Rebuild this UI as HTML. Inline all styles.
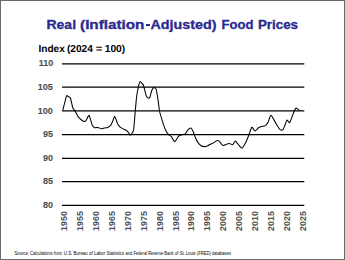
<!DOCTYPE html>
<html><head><meta charset="utf-8"><style>
html,body{margin:0;padding:0;}
body{width:345px;height:260px;position:relative;overflow:hidden;background:#fff;font-family:"Liberation Sans",sans-serif;}
.frame{position:absolute;left:0;top:0;width:345px;height:260px;box-sizing:border-box;border-left:1px solid #6a6a6a;border-top:1px solid #6a6a6a;border-right:1px solid #6a6a6a;border-bottom:1px solid #6a6a6a;}
.t{position:absolute;white-space:nowrap;line-height:1;transform-origin:0 0;}
.yl{font-weight:bold;transform-origin:100% 0;}
.xt{font-weight:bold;transform-origin:50% 50%;}
svg{position:absolute;left:0;top:0;}
</style></head><body>
<div class="frame"></div>
<svg width="345" height="260" viewBox="0 0 345 260">
<g stroke="#000" stroke-width="1.2"><line x1="62" x2="304.3" y1="63.78" y2="63.78"/><line x1="62" x2="304.3" y1="87.22" y2="87.22"/><line x1="62" x2="304.3" y1="110.85" y2="110.85"/><line x1="62" x2="304.3" y1="134.60" y2="134.60"/><line x1="62" x2="304.3" y1="158.30" y2="158.30"/><line x1="62" x2="304.3" y1="181.70" y2="181.70"/><line x1="62" x2="304.3" y1="205.45" y2="205.45"/></g>
<path d="M62.70,110.50 C63.07,109.08 65.92,97.75 66.40,96.30 C66.88,94.85 67.25,95.94 67.50,96.00 C67.75,96.06 68.60,96.68 68.90,96.90 C69.20,97.12 70.10,97.09 70.50,98.20 C70.90,99.31 72.47,106.77 72.90,108.00 C73.33,109.23 74.24,109.58 74.80,110.50 C75.36,111.42 77.64,116.12 78.50,117.20 C79.36,118.28 82.67,120.93 83.40,121.30 C84.13,121.67 85.34,121.37 85.80,120.90 C86.26,120.43 87.66,117.15 88.00,116.60 C88.34,116.05 88.95,115.09 89.20,115.40 C89.45,115.71 90.19,118.72 90.50,119.70 C90.81,120.68 91.87,124.40 92.30,125.20 C92.73,126.00 94.31,127.48 94.80,127.70 C95.29,127.92 96.77,127.38 97.20,127.40 C97.63,127.42 98.67,127.77 99.10,127.90 C99.53,128.03 100.95,128.70 101.50,128.70 C102.05,128.70 103.98,128.03 104.60,127.90 C105.22,127.77 107.08,127.67 107.70,127.40 C108.32,127.13 110.31,125.79 110.80,125.20 C111.29,124.61 112.23,122.38 112.60,121.50 C112.97,120.62 114.16,116.61 114.50,116.40 C114.84,116.19 115.68,118.64 116.00,119.40 C116.32,120.16 117.28,123.23 117.70,124.00 C118.12,124.77 119.65,126.61 120.20,127.10 C120.75,127.59 122.59,128.59 123.20,128.90 C123.81,129.21 125.77,129.83 126.30,130.20 C126.83,130.57 128.10,132.09 128.50,132.60 C128.90,133.11 129.90,135.30 130.30,135.30 C130.70,135.30 132.16,133.18 132.50,132.60 C132.84,132.02 133.46,131.22 133.70,129.50 C133.94,127.78 134.68,117.95 134.90,115.40 C135.12,112.85 135.70,106.09 135.90,104.00 C136.10,101.91 136.61,96.38 136.90,94.50 C137.19,92.62 138.49,86.50 138.80,85.20 C139.11,83.90 139.57,81.56 140.00,81.50 C140.43,81.44 142.67,83.92 143.10,84.60 C143.53,85.28 143.99,87.19 144.30,88.30 C144.61,89.41 145.83,94.74 146.20,95.70 C146.57,96.66 147.64,97.72 148.00,97.90 C148.36,98.08 149.43,98.21 149.80,97.50 C150.17,96.79 151.33,91.78 151.70,90.80 C152.07,89.82 153.07,87.89 153.50,87.70 C153.93,87.51 155.57,87.85 156.00,88.90 C156.43,89.95 157.49,96.29 157.80,98.20 C158.11,100.11 158.91,106.62 159.10,108.00 C159.29,109.38 159.46,110.98 159.70,112.00 C159.94,113.02 161.13,116.97 161.50,118.20 C161.87,119.43 162.97,123.07 163.40,124.30 C163.83,125.53 165.31,129.49 165.80,130.50 C166.29,131.51 167.74,133.79 168.30,134.40 C168.86,135.01 170.91,136.07 171.40,136.60 C171.89,137.13 172.87,139.18 173.20,139.70 C173.53,140.22 174.39,141.80 174.70,141.80 C175.01,141.80 175.95,140.22 176.30,139.70 C176.65,139.18 177.77,137.06 178.20,136.60 C178.63,136.14 180.05,135.33 180.60,135.10 C181.15,134.87 183.21,134.43 183.70,134.30 C184.19,134.17 185.12,134.20 185.50,133.80 C185.88,133.40 186.96,130.87 187.50,130.30 C188.04,129.73 190.34,127.98 190.90,128.10 C191.46,128.22 192.64,130.54 193.10,131.50 C193.56,132.46 195.01,136.59 195.50,137.70 C195.99,138.81 197.44,141.80 198.00,142.60 C198.56,143.40 200.48,145.30 201.10,145.70 C201.72,146.10 203.53,146.60 204.20,146.60 C204.87,146.60 207.17,145.94 207.80,145.70 C208.43,145.46 209.93,144.48 210.50,144.20 C211.07,143.92 212.95,143.21 213.50,142.90 C214.05,142.59 215.57,141.34 216.00,141.10 C216.43,140.86 217.43,140.44 217.80,140.50 C218.17,140.56 219.33,141.33 219.70,141.70 C220.07,142.07 221.13,143.81 221.50,144.20 C221.87,144.59 222.97,145.58 223.40,145.60 C223.83,145.62 225.19,144.61 225.80,144.40 C226.41,144.19 228.82,143.46 229.50,143.50 C230.18,143.54 232.02,145.04 232.60,144.80 C233.18,144.56 234.73,141.13 235.30,141.10 C235.87,141.07 237.63,143.79 238.30,144.50 C238.97,145.21 241.26,148.39 242.00,148.20 C242.74,148.01 245.02,143.90 245.70,142.60 C246.38,141.30 248.19,136.74 248.80,135.20 C249.41,133.66 251.19,127.63 251.80,127.20 C252.41,126.77 254.22,130.84 254.90,130.90 C255.58,130.96 257.96,128.25 258.60,127.80 C259.24,127.35 260.73,126.58 261.30,126.40 C261.87,126.22 263.81,126.16 264.30,126.00 C264.79,125.84 265.83,125.17 266.20,124.80 C266.57,124.43 267.54,123.25 268.00,122.30 C268.46,121.35 270.31,115.73 270.80,115.30 C271.29,114.87 272.38,117.18 272.90,118.00 C273.42,118.82 275.38,122.45 276.00,123.50 C276.62,124.55 278.61,127.84 279.10,128.50 C279.59,129.16 280.49,130.02 280.90,130.10 C281.31,130.18 282.80,129.79 283.20,129.30 C283.60,128.81 284.51,126.13 284.90,125.20 C285.29,124.27 286.63,120.24 287.10,120.00 C287.57,119.76 289.08,123.20 289.60,122.80 C290.12,122.40 291.78,117.30 292.30,116.00 C292.82,114.70 294.41,110.60 294.80,109.80 C295.19,109.00 295.90,108.06 296.20,108.00 C296.50,107.94 297.48,108.93 297.80,109.20 C298.12,109.47 299.24,110.55 299.40,110.70" fill="none" stroke="#000" stroke-width="1.05" stroke-linejoin="round"/>
</svg>
<div class="t" style="left:0px;top:19.0px;font-size:12.0px;color:#2a2a8f;font-weight:bold;transform:translateX(46.44px) scaleX(1.1672);-webkit-text-stroke:0.3px #2a2a8f;">Real</div>
<div class="t" style="left:0px;top:19.0px;font-size:12.0px;color:#2a2a8f;font-weight:bold;transform:translateX(80.05px) scaleX(1.2712);-webkit-text-stroke:0.3px #2a2a8f;">(Inflation</div>
<div class="t" style="left:0px;top:19.0px;font-size:12.0px;color:#2a2a8f;font-weight:bold;transform:translateX(150.43px) scaleX(1.1927);-webkit-text-stroke:0.3px #2a2a8f;">Adjusted)</div>
<div class="t" style="left:0px;top:19.0px;font-size:12.0px;color:#2a2a8f;font-weight:bold;transform:translateX(221.51px) scaleX(1.0873);-webkit-text-stroke:0.3px #2a2a8f;">Food</div>
<div class="t" style="left:0px;top:19.0px;font-size:12.0px;color:#2a2a8f;font-weight:bold;transform:translateX(257.95px) scaleX(1.1119);-webkit-text-stroke:0.3px #2a2a8f;">Prices</div>
<div class="t" style="left:0px;top:44.5px;font-size:10.2px;color:#000;font-weight:bold;transform:translateX(38.45px) scaleX(0.988);text-rendering:geometricPrecision;">Index</div>
<div class="t" style="left:0px;top:44.5px;font-size:10.2px;color:#000;font-weight:bold;transform:translateX(66.99px) scaleX(0.9924);text-rendering:geometricPrecision;">(2024</div>
<div class="t" style="left:0px;top:44.5px;font-size:10.2px;color:#000;font-weight:bold;transform:translateX(95.69px) scaleX(1.1197);text-rendering:geometricPrecision;">=</div>
<div class="t" style="left:0px;top:44.5px;font-size:10.2px;color:#000;font-weight:bold;transform:translateX(104.72px) scaleX(1.0059);text-rendering:geometricPrecision;">100)</div>
<div class="t" style="left:0px;top:250.5px;font-size:5px;color:#000;font-weight:normal;transform:translateX(14.57px) scaleX(0.8278);">Source: Calculations from</div>
<div class="t" style="left:0px;top:250.5px;font-size:5px;color:#000;font-weight:normal;transform:translateX(63.72px) scaleX(0.8834);">U.S. Bureau of Labor Statistics</div>
<div class="t" style="left:0px;top:250.5px;font-size:5px;color:#000;font-weight:normal;transform:translateX(125.56px) scaleX(0.8051);">and Federal Reserve Bank</div>
<div class="t" style="left:0px;top:250.5px;font-size:5px;color:#000;font-weight:normal;transform:translateX(175.04px) scaleX(0.8254);">of St. Louis (FRED) databases</div>
<div style="position:absolute;left:145.6px;top:23.6px;width:4.6px;height:2.0px;background:#2a2a8f"></div>
<div class="t yl" style="right:292.0px;top:60.20px;font-size:8.2px;transform:scaleX(1.1);-webkit-text-stroke:0.1px #505050;color:#505050">110</div>
<div class="t yl" style="right:292.0px;top:84.20px;font-size:8.2px;transform:scaleX(1.1);-webkit-text-stroke:0.1px #505050;color:#505050">105</div>
<div class="t yl" style="right:292.0px;top:108.20px;font-size:8.2px;transform:scaleX(1.1);-webkit-text-stroke:0.1px #505050;color:#505050">100</div>
<div class="t yl" style="right:292.0px;top:131.20px;font-size:8.2px;transform:scaleX(1.1);-webkit-text-stroke:0.1px #505050;color:#505050">95</div>
<div class="t yl" style="right:292.0px;top:155.20px;font-size:8.2px;transform:scaleX(1.1);-webkit-text-stroke:0.1px #505050;color:#505050">90</div>
<div class="t yl" style="right:292.0px;top:178.20px;font-size:8.2px;transform:scaleX(1.1);-webkit-text-stroke:0.1px #505050;color:#505050">85</div>
<div class="t yl" style="right:292.0px;top:202.20px;font-size:8.2px;transform:scaleX(1.1);-webkit-text-stroke:0.1px #505050;color:#505050">80</div>
<div class="t xt" style="left:64.30px;top:220.7px;font-size:8.9px;transform:translate(-50%,-50%) rotate(-90deg) scaleX(1.0);-webkit-text-stroke:0.0px #505050;color:#505050">1950</div>
<div class="t xt" style="left:80.19px;top:220.7px;font-size:8.9px;transform:translate(-50%,-50%) rotate(-90deg) scaleX(1.0);-webkit-text-stroke:0.0px #505050;color:#505050">1955</div>
<div class="t xt" style="left:96.07px;top:220.7px;font-size:8.9px;transform:translate(-50%,-50%) rotate(-90deg) scaleX(1.0);-webkit-text-stroke:0.0px #505050;color:#505050">1960</div>
<div class="t xt" style="left:111.96px;top:220.7px;font-size:8.9px;transform:translate(-50%,-50%) rotate(-90deg) scaleX(1.0);-webkit-text-stroke:0.0px #505050;color:#505050">1965</div>
<div class="t xt" style="left:127.85px;top:220.7px;font-size:8.9px;transform:translate(-50%,-50%) rotate(-90deg) scaleX(1.0);-webkit-text-stroke:0.0px #505050;color:#505050">1970</div>
<div class="t xt" style="left:143.74px;top:220.7px;font-size:8.9px;transform:translate(-50%,-50%) rotate(-90deg) scaleX(1.0);-webkit-text-stroke:0.0px #505050;color:#505050">1975</div>
<div class="t xt" style="left:159.62px;top:220.7px;font-size:8.9px;transform:translate(-50%,-50%) rotate(-90deg) scaleX(1.0);-webkit-text-stroke:0.0px #505050;color:#505050">1980</div>
<div class="t xt" style="left:175.51px;top:220.7px;font-size:8.9px;transform:translate(-50%,-50%) rotate(-90deg) scaleX(1.0);-webkit-text-stroke:0.0px #505050;color:#505050">1985</div>
<div class="t xt" style="left:191.40px;top:220.7px;font-size:8.9px;transform:translate(-50%,-50%) rotate(-90deg) scaleX(1.0);-webkit-text-stroke:0.0px #505050;color:#505050">1990</div>
<div class="t xt" style="left:207.28px;top:220.7px;font-size:8.9px;transform:translate(-50%,-50%) rotate(-90deg) scaleX(1.0);-webkit-text-stroke:0.0px #505050;color:#505050">1995</div>
<div class="t xt" style="left:223.17px;top:220.7px;font-size:8.9px;transform:translate(-50%,-50%) rotate(-90deg) scaleX(1.0);-webkit-text-stroke:0.0px #505050;color:#505050">2000</div>
<div class="t xt" style="left:239.06px;top:220.7px;font-size:8.9px;transform:translate(-50%,-50%) rotate(-90deg) scaleX(1.0);-webkit-text-stroke:0.0px #505050;color:#505050">2005</div>
<div class="t xt" style="left:254.94px;top:220.7px;font-size:8.9px;transform:translate(-50%,-50%) rotate(-90deg) scaleX(1.0);-webkit-text-stroke:0.0px #505050;color:#505050">2010</div>
<div class="t xt" style="left:270.83px;top:220.7px;font-size:8.9px;transform:translate(-50%,-50%) rotate(-90deg) scaleX(1.0);-webkit-text-stroke:0.0px #505050;color:#505050">2015</div>
<div class="t xt" style="left:286.72px;top:220.7px;font-size:8.9px;transform:translate(-50%,-50%) rotate(-90deg) scaleX(1.0);-webkit-text-stroke:0.0px #505050;color:#505050">2020</div>
<div class="t xt" style="left:302.61px;top:220.7px;font-size:8.9px;transform:translate(-50%,-50%) rotate(-90deg) scaleX(1.0);-webkit-text-stroke:0.0px #505050;color:#505050">2025</div>
</body></html>
